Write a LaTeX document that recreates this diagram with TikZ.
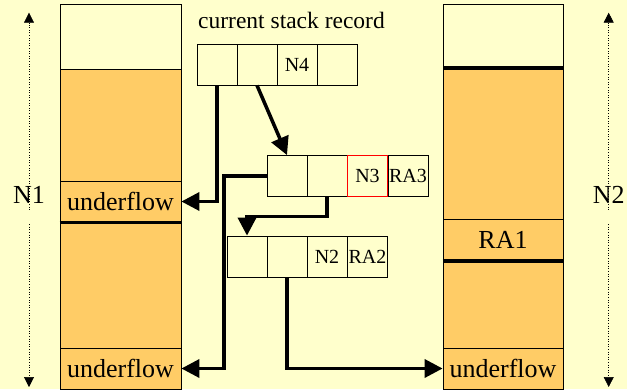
\documentclass[tikz,border=0pt]{standalone}
\usepackage{fontspec}
\setmainfont{Liberation Serif}
\usetikzlibrary{arrows.meta}
\definecolor{paper}{HTML}{FFFFCC}
\definecolor{stack}{HTML}{FFCC66}
\tikzset{
  cell/.style={draw,line width=0.8pt,minimum width=40pt,minimum height=41pt,inner sep=0pt,font=\fontsize{20}{20}\selectfont},
  seg/.style={draw,fill=stack,line width=0.8pt,minimum width=121pt,minimum height=41pt,inner sep=0pt,font=\fontsize{26}{26}\selectfont},
  ptr/.style={line width=3.5pt,-{Triangle[length=18pt,width=18pt]}},
  dir/.style={dotted,line width=0.6pt,-{Triangle[length=10pt,width=10pt]}},
}
\begin{document}
\begin{tikzpicture}[x=1pt,y=-1pt]
\fill[paper] (0,0) rectangle (627,389);
\useasboundingbox (0,0) rectangle (627,389);
% stack N1
\draw[line width=0.8pt,fill=paper] (60,4.5) rectangle (181,69);
\draw[line width=0.8pt,fill=stack] (60,69) rectangle (181,391);
\node[seg] (luf1) at (120.5,201.5) {underflow};
\node[seg] (luf2) at (120.5,368.5) {underflow};
\draw[line width=3pt] (luf1.south west) -- (luf1.south east);
% stack N2
\draw[line width=0.8pt,fill=paper] (443,4.5) rectangle (563,68);
\draw[line width=0.8pt,fill=stack] (443,68) rectangle (563,391);
\draw[line width=4.5pt] (443,68) -- (563,68);
\node[seg,minimum width=120pt] (ra1) at (503,240.3) {RA1};
\node[seg,minimum width=120pt] (ruf) at (503,368.5) {underflow};
\draw[line width=4.5pt] (ra1.south west) -- (ra1.south east);
% directions
\node[font=\fontsize{26}{26}\selectfont] (n1) at (29,195) {N1};
\node[font=\fontsize{26}{26}\selectfont] (n2) at (608.7,195) {N2};
\coordinate (n1top) at (29,12.7);
\coordinate (n1bot) at (29,387);
\coordinate (n2top) at (608.7,12.7);
\coordinate (n2bot) at (608.7,387);
\draw[dir] ([yshift=-27pt]n1.north) -- (n1top);
\draw[dir] ([yshift=-17pt]n1.south) -- (n1bot);
\draw[dir] ([yshift=-27pt]n2.north) -- (n2top);
\draw[dir] ([yshift=-17pt]n2.south) -- (n2bot);
% records
\node[anchor=base,font=\fontsize{23.5}{23.5}\selectfont] (title) at (291.5,28) {current stack record};
\node[cell] (r1a) at (217,64.5) {};
\node[cell] (r1b) at (257,64.5) {};
\node[cell] (r1c) at (297,64.5) {N4};
\node[cell] (r1d) at (337,64.5) {};
\node[cell] (r2a) at (287,176) {};
\node[cell] (r2b) at (327,176) {};
\node[cell] (r2d) at (408,176) {RA3};
\node[cell,draw=red] (r2c) at (367.5,176) {N3};
\node[cell] (r3a) at (247,256.5) {};
\node[cell] (r3b) at (287,256.5) {};
\node[cell] (r3c) at (327,256.5) {N2};
\node[cell] (r3d) at (367.5,256.5) {RA2};
% pointers
\coordinate (bend) at (224,176);
\draw[ptr] (r1a.south) |- (luf1.east);
\draw[ptr] (r1b.south) -- (r2a.north);
\draw[ptr] (r2a.west) -- (bend) |- (luf2.east);
\draw[ptr] (r2b.south) -- ++(0,19.5) -| (r3a.north);
\draw[ptr] (r3b.south) |- (ruf.west);
\end{tikzpicture}
\end{document}
